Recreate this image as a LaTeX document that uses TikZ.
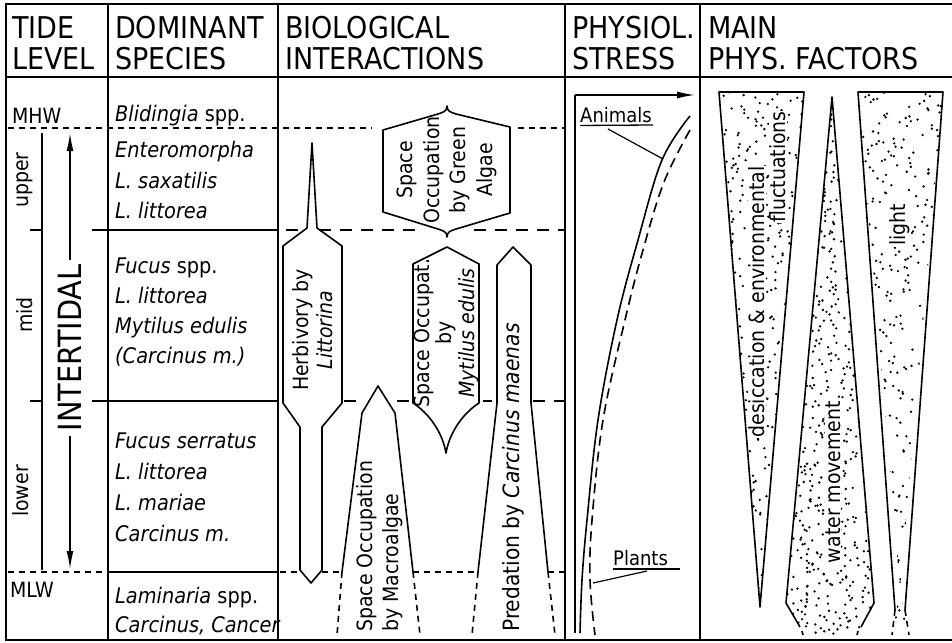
\documentclass[tikz,border=0pt]{standalone}
\usepackage{fontspec}
\setmainfont{DejaVu Sans Condensed}
\usetikzlibrary{arrows.meta}
\begin{document}
\begin{tikzpicture}[x=1pt,y=-1pt,
  outl/.style={line width=2.1pt},
  shp/.style={line width=1.6pt,line join=round},
  sdash/.style={line width=1.6pt,dash pattern=on 6pt off 5pt},
  ldash/.style={line width=1.8pt,dash pattern=on 12pt off 9pt},
  hdr/.style={font=\fontsize{30}{32}\selectfont,anchor=base west,inner sep=0pt},
  sp/.style={font=\fontsize{21.5}{24}\selectfont\itshape,anchor=base west,inner sep=0pt},
  up/.style={font=\fontsize{21}{24}\selectfont,anchor=base west,inner sep=0pt},
  rlab/.style={font=\fontsize{21}{24}\selectfont,rotate=90,align=center,inner sep=0pt},
  stiptext/.style={rlab,fill=white,inner sep=0.6pt},
  arr/.style={line width=1.5pt,-{Latex[length=18pt,width=7pt]}},
  stip/.style={fill=black},
]
\useasboundingbox (0,0) rectangle (952,642);
% ---------- frame ----------
\draw[outl] (952,4) -- (6,4) -- (6,640) -- (952,640);
\draw[outl] (6,77) -- (952,77);
\draw[outl] (108,4) -- (108,640);
\draw[outl] (278,4) -- (278,640);
\draw[outl] (565,4) -- (565,640);
\draw[outl] (700,4) -- (700,640);
% ---------- headers ----------
\node[hdr] (h1a) at (12,38) {TIDE};
\node[hdr] (h1b) at (12,70) {LEVEL};
\node[hdr] (h2a) at (115,38) {DOMINANT};
\node[hdr] (h2b) at (115,70) {SPECIES};
\node[hdr] (h3a) at (285,38) {BIOLOGICAL};
\node[hdr] (h3b) at (285,70) {INTERACTIONS};
\node[hdr] (h4a) at (572,38) {PHYSIOL.};
\node[hdr] (h4b) at (572,70) {STRESS};
\node[hdr] (h5a) at (708,38) {MAIN};
\node[hdr] (h5b) at (708,70) {PHYS.\ FACTORS};
% ---------- tide level column ----------
\node[up] (mhw) at (12,123) {MHW};
\node[up] (mlw) at (10,597) {MLW};
\draw[line width=1.6pt] (42,133) -- (42,570);
\draw[line width=1.6pt] (30,230) -- (42,230);
\draw[line width=1.6pt] (30,401) -- (42,401);
\node[rlab] (upper) at (25,180) {upper};
\node[rlab] (mid) at (25,315) {mid};
\node[rlab] (lower) at (21,491) {lower};
\node[rlab,font=\fontsize{32}{34}\selectfont,inner sep=4pt] (itd) at (70,348) {INTERTIDAL};
\coordinate (itup) at (70,133);
\coordinate (itdn) at (70,569);
\draw[arr] (itd.east) -- (itup);
\draw[arr] (itd.west) -- (itdn);
% ---------- level lines ----------
\draw[sdash] (8,128) -- (372,128);
\draw[sdash] (518,128) -- (565,128);
\draw[outl] (92,230) -- (278,230);
\draw[outl] (92,401) -- (278,401);
\draw[ldash] (286,230) -- (306,230);
\draw[ldash] (319,230) -- (420,230);
\draw[ldash] (474,230) -- (565,230);
\draw[ldash] (344,401) -- (362,401);
\draw[ldash] (397,401) -- (412,401);
\draw[ldash] (483,401) -- (492,401);
\draw[ldash] (533,401) -- (565,401);
\draw[sdash] (8,572) -- (108,572);
\draw[outl] (108,572) -- (278,572);
\draw[sdash] (280,572) -- (300,572);
\draw[sdash] (322,572) -- (342,572);
\draw[sdash] (413,572) -- (478,572);
\draw[sdash] (548,572) -- (565,572);
% ---------- species ----------
\node[sp] (s1) at (115,121) {Blidingia \textup{spp.}};
\node[sp] (s2) at (115,157) {Enteromorpha};
\node[sp] (s3) at (115,188) {L. saxatilis};
\node[sp] (s4) at (115,218) {L. littorea};
\node[sp] (s5) at (115,273) {Fucus \textup{spp.}};
\node[sp] (s6) at (115,303) {L. littorea};
\node[sp] (s7) at (115,333) {Mytilus edulis};
\node[sp] (s8) at (115,363) {(Carcinus m.)};
\node[sp] (s9) at (115,448) {Fucus serratus};
\node[sp] (s10) at (115,479) {L. littorea};
\node[sp] (s11) at (115,510) {L. mariae};
\node[sp] (s12) at (115,541) {Carcinus m.};
\node[sp] (s13) at (115,603) {Laminaria \textup{spp.}};
\node[sp] (s14) at (115,632) {Carcinus, Cancer};
% ---------- biological interactions ----------
% Herbivory
\draw[shp] (312,143) -- (317,228) -- (342,246) -- (342,403) -- (322,427) -- (322,570)
  -- (311,583) -- (300,570) -- (300,427) -- (283,403) -- (283,246) -- (307,228) -- cycle;
\node[rlab] (herb) at (313,330) {Herbivory by\\\textit{Littorina}};
% Green algae
\draw[shp] (383,130) -- (438,114) .. controls (444,112) and (447,111) .. (447,106)
  .. controls (447,111) and (450,112) .. (456,114) -- (510,127) -- (510,213)
  -- (456,229) .. controls (450,231) and (447,232) .. (447,237)
  .. controls (447,232) and (444,231) .. (438,229) -- (383,212) -- cycle;
\node[rlab,font=\fontsize{21}{26.5}\selectfont] (green) at (447,170) {Space\\Occupation\\by Green\\Algae};
% Mytilus
\draw[shp] (447,247) -- (479,264) -- (479,403) .. controls (465,412) and (450,430) .. (446,453)
  .. controls (442,430) and (427,412) .. (413,403) -- (413,264) -- cycle;
\node[rlab,font=\fontsize{21}{22.5}\selectfont] (myt) at (446,333) {Space Occupat.\\by\\\textit{Mytilus edulis}};
% Predation
\draw[shp] (478,572) -- (497,403) -- (497,265) -- (513,247) -- (531,265) -- (531,403) -- (548,572);
\draw[sdash] (478,572) -- (472,635);
\draw[sdash] (548,572) -- (555,635);
\node[rlab,anchor=west,font=\fontsize{22.5}{24}\selectfont] (pred) at (513,632) {Predation by \textit{Carcinus maenas}};
% Macroalgae
\draw[shp] (342,572) -- (362,413) -- (378,386) -- (395,413) -- (413,572);
\draw[sdash] (342,572) -- (337,635);
\draw[sdash] (413,572) -- (420,635);
\node[rlab,align=left,anchor=west,font=\fontsize{21}{26}\selectfont] (macro) at (380,632) {Space Occupation\\by Macroalgae};
% ---------- physiological stress ----------
\draw[line width=1.6pt] (575,633) -- (575,95);
\coordinate (sa0) at (575,95);
\coordinate (sa1) at (695,95);
\draw[arr,line width=1.6pt] (sa0) -- (sa1);
\draw[line width=1.6pt] plot[smooth,tension=0.6] coordinates {(690,116) (662,160) (638,240) (617,320) (598,420) (587,520) (582,580) (580,633)};
\draw[line width=1.6pt,dash pattern=on 10pt off 6pt] plot[smooth,tension=0.6] coordinates {(690,130) (664,182) (643,250) (625,320) (603,420) (592,520) (590,580) (595,635)};
\node[up,font=\fontsize{20}{24}\selectfont] (animals) at (580,122) {Animals};
\draw[line width=1.3pt] (animals.south west) ++(0,3) coordinate (au0) -- (653,125) coordinate (au1);
\coordinate (apt) at (663,159);
\coordinate (alead) at (608,129);
\draw[line width=1.2pt] (alead) -- (apt);
\node[up,font=\fontsize{20}{24}\selectfont] (plants) at (613,565) {Plants};
\draw[line width=1.3pt] (613,569) coordinate (pu0) -- (680,569) coordinate (pu1);
\coordinate (ppt) at (593,583);
\coordinate (plead) at (647,571);
\draw[line width=1.2pt] (plead) -- (ppt);
% ---------- main physical factors (stippled) ----------
\pgfmathsetseed{2024}
% desiccation
\begin{scope}
\clip (719,92) -- (804,92) -- (760,607) -- cycle;
\foreach \i in {1,...,460}{
  \pgfmathsetmacro{\rx}{719+85*rnd}
  \pgfmathsetmacro{\ry}{92+(\i-rnd)*1.11957}
  \fill[stip] (\rx,\ry) circle[radius=1.3pt];
}
\end{scope}
\draw[shp] (719,92) -- (804,92) -- (760,607) -- cycle;
% water movement
\begin{scope}
\clip (832,97) -- (874,603) -- (857,635) -- (802,635) -- (786,603) -- cycle;
\foreach \i in {1,...,700}{
  \pgfmathsetmacro{\rx}{786+88*rnd}
  \pgfmathsetmacro{\ry}{97+(\i-rnd)*0.76857}
  \fill[stip] (\rx,\ry) circle[radius=1.3pt];
}
\end{scope}
\draw[shp] (800,627) -- (786,603) -- (832,97) -- (874,603) -- (861,627);
\draw[shp] (802,631) -- (803,635);
\draw[shp] (858,631) -- (857,635);
% light
\begin{scope}
\clip (858,92) -- (943,92) -- (900,590) -- (909,635) -- (892,635) -- (900,590) -- cycle;
\foreach \i in {1,...,440}{
  \pgfmathsetmacro{\rx}{858+85*rnd}
  \pgfmathsetmacro{\ry}{92+(\i-rnd)*1.23409}
  \fill[stip] (\rx,\ry) circle[radius=1.3pt];
}
\end{scope}
\draw[shp] (895,610) -- (858,92) -- (943,92) -- (905,610);
\draw[sdash] (895,610) -- (892,635);
\draw[sdash] (905,610) -- (909,635);
% texts
\node[stiptext] (desic) at (757,302) {desiccation \& environmental};
\node[stiptext] (fluct) at (778,167) {fluctuations};
\node[stiptext] (water) at (833,482) {water movement};
\node[stiptext] (light) at (900,225) {light};
\end{tikzpicture}
\end{document}
